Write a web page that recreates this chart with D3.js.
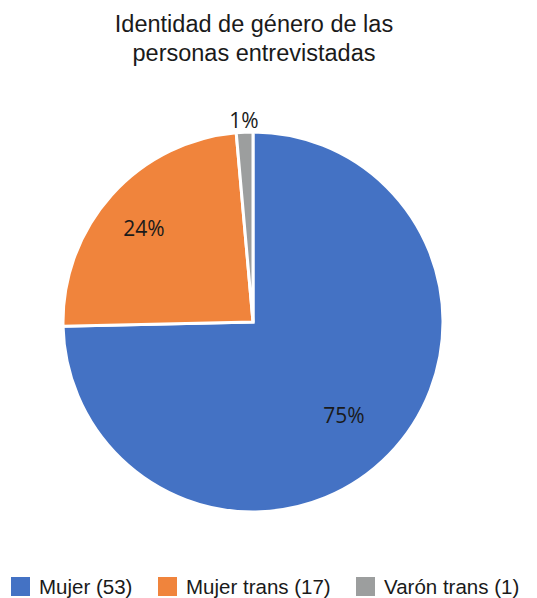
<!DOCTYPE html>
<html>
<head>
<meta charset="utf-8">
<script src="https://cdn.jsdelivr.net/npm/d3@7"></script>
<style>
  html, body { margin: 0; padding: 0; background: #ffffff; }
  svg { display: block; }
</style>
</head>
<body>
<svg id="chart" width="537" height="598"></svg>
<script>
// Gender identity of interviewees
const categories = ["Mujer", "Mujer trans", "Varón trans"];
const counts = [53, 17, 1];
const percentLabels = ["75%", "24%", "1%"];
const colors = ["#4472C4", "#F0843C", "#9C9E9E"];
const titleLines = ["Identidad de género de las", "personas entrevistadas"];

const svg = d3.select("#chart");
const cx = 253, cy = 322, R = 190;

// Title
svg.append("text")
  .attr("x", 254)
  .attr("y", 32)
  .attr("text-anchor", "middle")
  .style("font-family", "'Liberation Sans', Arial, sans-serif")
  .style("font-size", "23.5px")
  .style("fill", "#1a1a1a")
  .selectAll("tspan")
  .data(titleLines)
  .join("tspan")
  .attr("x", 254)
  .attr("dy", (d, i) => i === 0 ? 0 : 29)
  .text(d => d);

// Pie
const data = categories.map((c, i) => ({ name: c, value: counts[i], label: percentLabels[i], color: colors[i] }));
const pie = d3.pie().value(d => d.value).sort(null);
const arcs = pie(data);
const arc = d3.arc().innerRadius(0).outerRadius(R);

const g = svg.append("g").attr("transform", `translate(${cx},${cy})`);
g.selectAll("path")
  .data(arcs)
  .join("path")
  .attr("d", arc)
  .attr("fill", d => d.data.color)
  .attr("stroke", "#ffffff")
  .attr("stroke-width", 3)
  .attr("stroke-linejoin", "miter");

// Percentage labels: inside for large slices, just outside for the small one
const labelRadius = [R * 0.67, R * 0.77, R + 16];
g.selectAll("text.pct")
  .data(arcs)
  .join("text")
  .attr("class", "pct")
  .attr("transform", (d, i) => {
    const a = (d.startAngle + d.endAngle) / 2;
    const r = labelRadius[i];
    return `translate(${r * Math.sin(a)},${-r * Math.cos(a)})`;
  })
  .attr("text-anchor", "middle")
  .attr("dy", "0.55em")
  .style("font-family", "'Open Sans', sans-serif")
  .style("font-size", "21px")
  .style("fill", "#1a1a1a")
  .text(d => d.data.label);

// Legend
const legendItems = data.map(d => ({ text: `${d.name} (${d.value})`, color: d.color }));
const legend = svg.append("g").attr("transform", "translate(0,577)");
const itemX = [11, 158, 356];
const item = legend.selectAll("g")
  .data(legendItems)
  .join("g")
  .attr("transform", (d, i) => `translate(${itemX[i]},0)`);
item.append("rect")
  .attr("width", 19)
  .attr("height", 19)
  .attr("fill", d => d.color);
item.append("text")
  .attr("x", 28)
  .attr("y", 17)
  .style("font-family", "'Liberation Sans', Arial, sans-serif")
  .style("font-size", "20.5px")
  .style("fill", "#1a1a1a")
  .text(d => d.text);
</script>
</body>
</html>
